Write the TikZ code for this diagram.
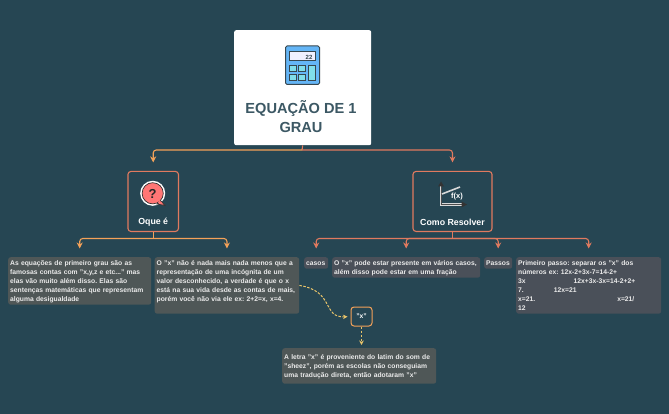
\documentclass[tikz,border=0pt]{standalone}
\usepackage{fontspec}
\setmainfont{Liberation Sans}
\usetikzlibrary{positioning}
\usetikzlibrary{arrows.meta}
\definecolor{bgteal}{HTML}{264653}
\definecolor{branchor}{HTML}{F4A259}
\definecolor{branchsal}{HTML}{E07A5F}
\definecolor{linkyel}{HTML}{E9C46A}
\definecolor{leafl}{HTML}{4F5757}
\definecolor{leafr}{HTML}{4A5059}
\definecolor{calcbody}{HTML}{64B5F6}
\definecolor{calckey}{HTML}{80DEEA}
\definecolor{calcline}{HTML}{37474F}
\definecolor{bubble}{HTML}{FF7675}
\tikzset{topicbox/.style={draw=branchsal, line width=1.1pt, rounded corners=3pt, fill=bgteal, anchor=south, inner sep=0pt, minimum height=60pt}}
\tikzset{topiclabel/.style={text=white, font=\fontsize{8.8}{10}\selectfont\bfseries, inner sep=0pt}}
\tikzset{leaf/.style={fill=leafr, rounded corners=2.5pt, text=white!92!black, font=\fontsize{6.75}{9}\selectfont\bfseries\frenchspacing, align=left, anchor=north west, inner xsep=2pt, inner ysep=1pt, execute at begin node={\rule{0pt}{7.5pt}}, execute at end node={\rule[-2pt]{0pt}{2pt}}}}
\tikzset{branch/.style={line width=1.1pt, rounded corners=3pt, -{Stealth[length=6pt,width=6pt]}, shorten >=8.5pt}}
\tikzset{crosslink/.style={draw=linkyel, line width=1pt, dashed, dash pattern=on 2.5pt off 1.5pt, -{Stealth[length=4.5pt,width=4.5pt]}, shorten >=3pt}}

\begin{document}
\begin{tikzpicture}[x=1pt,y=-1pt]
\useasboundingbox (0,0) rectangle (669,414);
\fill[bgteal] (0,0) rectangle (669,414);

% main topic
\node[fill=white, rounded corners=2pt, minimum width=137pt, minimum height=115pt, anchor=north west, inner sep=0pt] (root) at (234,30) {};
\node[text=bgteal!90!white, font=\fontsize{14.6}{19}\selectfont\bfseries, align=center] (title) at (301,117) {EQUAÇÃO DE 1\\GRAU};

% calculator
\filldraw[fill=calcbody, draw=calcline, line width=1pt, rounded corners=1.5pt] (285.5,46) rectangle (319.5,84.5);
\filldraw[fill=blue!6, draw=calcline, line width=0.7pt] (289.5,51) rectangle (315.5,60.5);
\node[font=\fontsize{6}{6}\selectfont\bfseries, text=calcline, inner sep=0pt] (calcnum) at (309,57) {22};
\foreach \cx in {289.5,298.5} \foreach \cy in {65.5,74} {
  \filldraw[fill=calckey, draw=calcline, line width=0.7pt] (\cx,\cy) rectangle ++(6.5,6);
}
\filldraw[fill=calckey, draw=calcline, line width=0.7pt] (308.5,65.5) rectangle (315.5,80);

\coordinate (bus) at (302,150);
\node[topicbox, minimum width=50.5pt] (oque) at (153.2,232) {};
\node[topiclabel] (oquelabel) at ([yshift=10pt]oque.south) {Oque é};
\node[topicbox, minimum width=79pt] (como) at (452.5,232) {};
\node[topiclabel] (comolabel) at ([yshift=10pt]como.south) {Como Resolver};

% question icon
\filldraw[fill=bubble, draw=white, line width=2pt] (152.7,193.3) circle (11.5);
\filldraw[fill=bubble, draw=black!80, line width=0.7pt] (161,201) -- (165,205.5) -- (157,204) -- cycle;
\filldraw[fill=bubble, draw=black!80, line width=0.7pt] (152.7,193.3) circle (10.6);
\fill[bubble] (159,200) -- (162,203) -- (158,203) -- cycle;
\node[font=\fontsize{13}{13}\selectfont\bfseries, text=black!85, inner sep=0pt] (quest) at (152.7,193.5) {?};

% graph icon
\draw[white!85!black, line width=2.2pt] (441,186) -- (441,204.5) -- (463,204.5);
\draw[black!70, line width=0.6pt] (441,186) -- (441,204.5) -- (463,204.5);
\fill[black!80] (441,181.5) -- (444,186.5) -- (438,186.5) -- cycle;
\fill[black!80] (467,204.5) -- (461.5,201.5) -- (461.5,207.5) -- cycle;
\draw[white!85!black, line width=1.6pt] (442,194) -- (460,187);
\node[font=\fontsize{7.5}{8}\selectfont\bfseries, text=white, inner sep=0pt] (fx) at (457,197) {f(x)};

% leaves
\node[leaf, fill=leafl, text width=139pt] (ans1) at (8,257) {As equações de primeiro grau são as\\famosas contas com "x,y,z e etc..." mas\\elas vão muito além disso. Elas são\\sentenças matemáticas que representam\\alguma desigualdade};
\node[leaf, fill=leafl, text width=140.5pt] (ans2) at (154.5,257) {O "x" não é nada mais nada menos que a\\representação de uma incógnita de um\\valor desconhecido, a verdade é que o x\\está na sua vida desde as contas de mais,\\porém você não via ele ex: 2+2=x, x=4.\\\mbox{}};
\node[leaf, text width=20pt] (casos) at (304,257) {casos};
\node[leaf, text width=144pt] (varios) at (332,257) {O "x" pode estar presente em vários casos,\\além disso pode estar em uma fração};
\node[leaf, text width=24pt] (passos) at (484,257) {Passos};
\node[leaf, text width=141pt] (primeiro) at (516,257) {Primeiro passo: separar os "x" dos\\números ex: 12x-2+3x-7=14-2+\\3x\hspace*{48pt}12x+3x-3x=14-2+2+\\7.\hspace*{30pt}12x=21\\x=21.\hspace*{82pt}x=21/\\12};

\node[draw=branchor, line width=1pt, rounded corners=3pt, fill=bgteal, text=white, font=\fontsize{6.75}{9}\selectfont\bfseries, minimum width=21pt, minimum height=19pt, inner sep=0pt] (xnode) at (361.5,316.5) {"x"};
\node[leaf, fill=leafl, text width=150pt, inner ysep=4pt] (sheez) at (282,348) {A letra "x" é proveniente do latim do som de\\"sheez", porém as escolas não conseguiam\\uma tradução direta, então adotaram "x"};

% connectors
\draw[line width=1.1pt, branchsal] (root.south) -- (bus);
\draw[branch, branchor] (bus) -| (oque.north);
\draw[branch, branchsal] (bus) -| (como.north);
\coordinate (busa) at (153.2,238.5);
\coordinate (busb) at (452.5,238.5);
\draw[line width=1.1pt, branchor] (oque.south) -- (busa);
\draw[line width=1.1pt, branchsal] (como.south) -- (busb);
\draw[branch, branchor] (busa) -| (ans1.north);
\draw[branch, branchor] (busa) -| (ans2.north);
\draw[branch, branchsal] (busb) -| (casos.north);
\draw[branch, branchsal] (busb) -| (varios.north);
\draw[branch, branchsal] (busb) -| (passos.north);
\draw[branch, branchsal] (busb) -| (primeiro.north);
\draw[crosslink] (ans2.east) .. controls (335,291) and (322,318) .. (xnode.west);
\draw[crosslink] (xnode.south) -- (sheez.north-|xnode.south);
\end{tikzpicture}
\end{document}
